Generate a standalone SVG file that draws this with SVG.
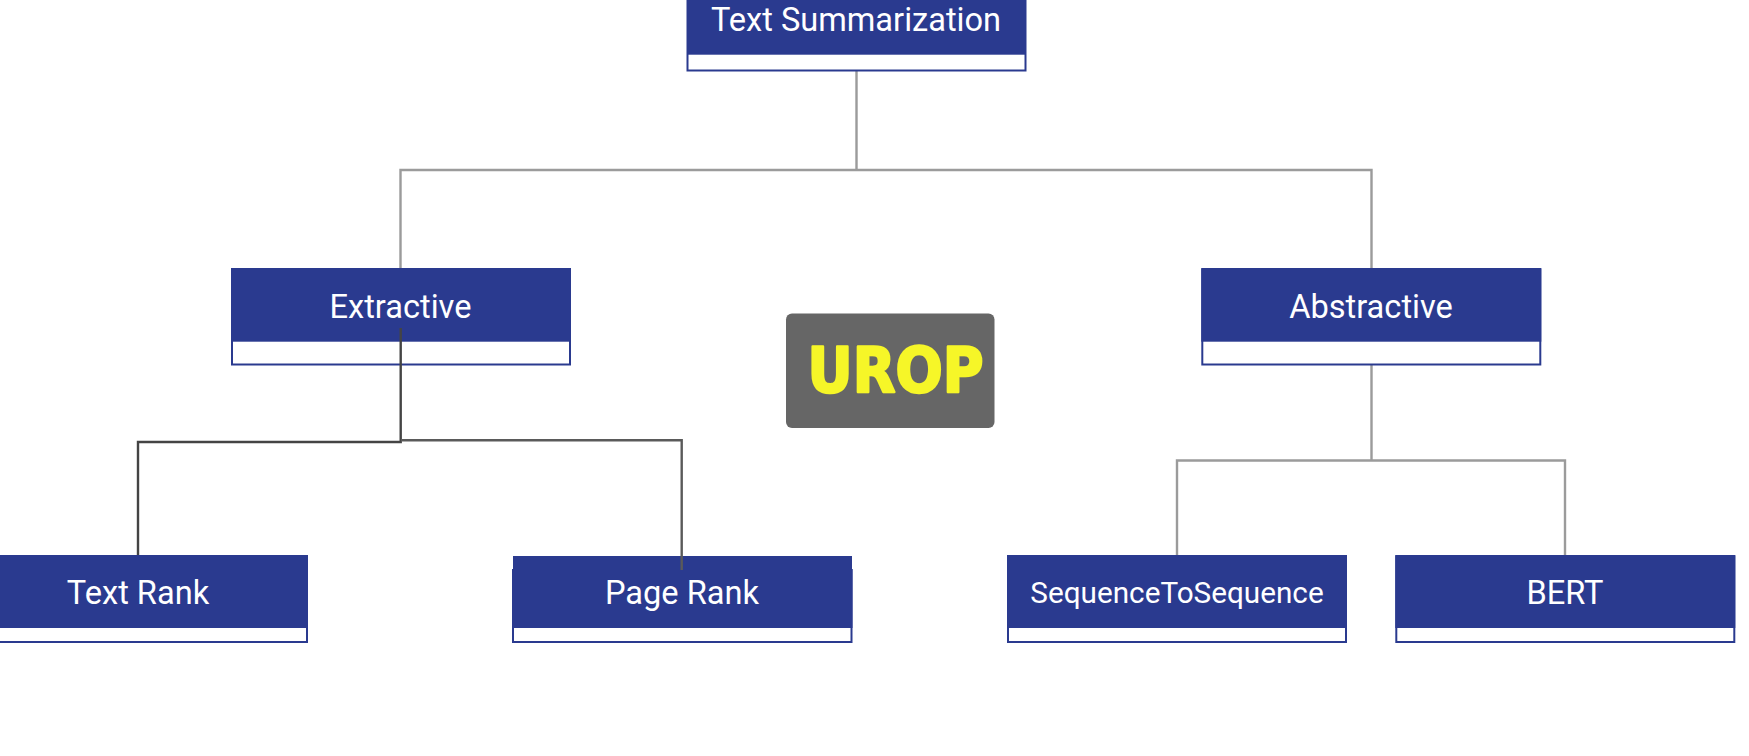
<svg xmlns="http://www.w3.org/2000/svg" width="1749" height="756" viewBox="0 0 1749 756">
<style>
.bar{fill:#2a3a8f}
.frame{fill:#fff;stroke:#2a3a8f;stroke-width:2}
.label{font-family:Roboto,"Liberation Sans",sans-serif;font-size:32.6px;fill:#fff;text-anchor:middle}
.light{fill:none;stroke:#9b9b9b;stroke-width:2.4}
.dark{fill:none;stroke:#444;stroke-width:2.4}
.mid{fill:none;stroke:#5a5a5a;stroke-width:2.4}
</style>
<rect width="1749" height="756" fill="#fff"/>
<g id="connectors">
<path class="light" d="M856.5 71V170M400.5 268V170H1371.5V268"/>
<path class="light" d="M1371.5 365V460.5M1177 555V460.5H1565V555"/>
</g>
<g id="node-text-summarization">
<rect class="frame" x="687.5" y="-10" width="338" height="80.5"/>
<rect class="bar" x="687" y="-10" width="339" height="64.7"/>
<text class="label" x="856" y="30.5">Text Summarization</text>
</g>
<g id="node-extractive">
<rect class="frame" x="232" y="269" width="338" height="95.5"/>
<rect class="bar" x="231" y="268.5" width="340" height="73.2"/>
<text class="label" x="400.5" y="317.6">Extractive</text>
</g>
<g id="node-abstractive">
<rect class="frame" x="1202.3" y="269" width="338" height="95.5"/>
<rect class="bar" x="1201.3" y="268.5" width="340" height="73.2"/>
<text class="label" x="1371" y="317.6">Abstractive</text>
</g>
<g id="node-text-rank">
<rect class="frame" x="-31" y="556" width="338" height="86"/>
<rect class="bar" x="-32" y="555.5" width="340" height="72.5"/>
<text class="label" x="138" y="603.6">Text Rank</text>
</g>
<g id="node-page-rank">
<rect class="frame" x="513" y="570" width="338.5" height="72"/>
<rect class="bar" x="512" y="569" width="340.5" height="59"/>
<rect class="bar" x="513" y="556" width="339" height="14"/>
<text class="label" x="682" y="603.6">Page Rank</text>
</g>
<g id="node-sequence">
<rect class="frame" x="1008" y="556" width="338" height="86"/>
<rect class="bar" x="1007" y="555.5" width="340" height="72.5"/>
<text class="label" x="1177" y="603" style="font-size:29.7px">SequenceToSequence</text>
</g>
<g id="node-bert">
<rect class="frame" x="1396.3" y="556" width="338" height="86"/>
<rect class="bar" x="1395.3" y="555.5" width="340" height="72.5"/>
<text class="label" x="1565" y="603.6">BERT</text>
</g>
<g id="node-urop">
<rect x="786" y="313.5" width="208.5" height="114.5" rx="6" fill="#666"/>
<text x="895.5" y="391.5" font-family="'DejaVu Sans',sans-serif" font-weight="700" font-size="62" fill="#f6f628" stroke="#f6f628" stroke-width="2.5" stroke-linejoin="round" text-anchor="middle" textLength="176" lengthAdjust="spacingAndGlyphs">UROP</text>
</g>
<g id="connectors-dark">
<path class="dark" d="M400.7 328V442H138V555"/>
<path class="mid" d="M401 440.3H681.7V570"/>
</g>
</svg>
